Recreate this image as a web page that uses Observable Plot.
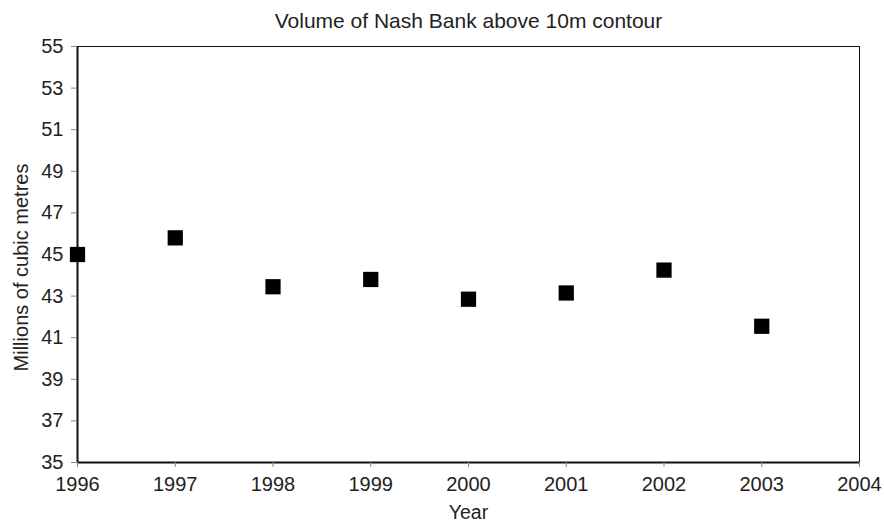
<!DOCTYPE html>
<html><head><meta charset="utf-8">
<script src="https://cdn.jsdelivr.net/npm/d3@7"></script>
<script src="https://cdn.jsdelivr.net/npm/@observablehq/plot@0.6"></script>
<style>body{margin:0;background:#fff;font-family:"Liberation Sans",Arial,sans-serif;}</style>
</head><body><div id="chart"></div>
<script>
const title = "Volume of Nash Bank above 10m contour";
const years = [1996, 1997, 1998, 1999, 2000, 2001, 2002, 2003];
const volumes = [45.0, 45.8, 43.45, 43.8, 42.85, 43.15, 44.25, 41.55];
const xTicks = [1996, 1997, 1998, 1999, 2000, 2001, 2002, 2003, 2004];
const yTicks = [35, 37, 39, 41, 43, 45, 47, 49, 51, 53, 55];
const data = years.map((y, i) => ({year: y, value: volumes[i]}));

const chart = Plot.plot({
  width: 884, height: 523,
  marginLeft: 77, marginRight: 25, marginTop: 46, marginBottom: 61,
  style: {fontFamily: '"Liberation Sans", Arial, sans-serif', fontSize: "20px", color: "#222", background: "#fff"},
  x: {domain: [1996, 2004]},
  y: {domain: [35, 55]},
  marks: [
    Plot.frame({stroke: "#111", strokeWidth: 1}),
    Plot.ruleX([1996], {stroke: "#111", strokeWidth: 2}),
    Plot.ruleY([35], {stroke: "#111", strokeWidth: 2}),
    Plot.axisX({ticks: xTicks, tickFormat: d => String(d), tickSize: 5, tickPadding: 9, stroke: "#888", fontSize: 20, label: null}),
    Plot.axisY({ticks: yTicks, tickSize: 6, tickPadding: 8, stroke: "#888", fontSize: 20, label: null}),
    Plot.text(["Year"], {frameAnchor: "bottom", dy: 56, fontSize: 19.5, fill: "#222"}),
    Plot.text(["Millions of cubic metres"], {frameAnchor: "left", textAnchor: "middle", dx: -56, dy: 13, rotate: -90, fontSize: 20, fill: "#222"}),
    Plot.dot(data, {x: "year", y: "value", symbol: "square", r: 8.6, fill: "#000", stroke: "none"}),
    Plot.text([title], {frameAnchor: "top", dy: -33, fontSize: 21, fill: "#222"})
  ]
});
document.getElementById("chart").appendChild(chart);
</script></body></html>
